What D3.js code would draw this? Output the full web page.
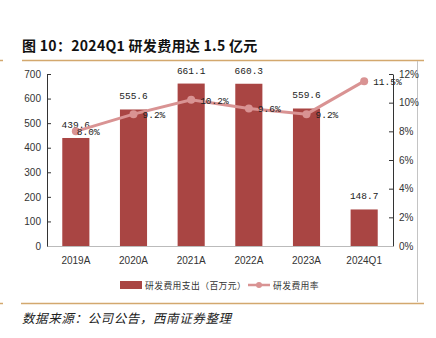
<!DOCTYPE html>
<html>
<head>
<meta charset="utf-8">
<script src="https://cdn.jsdelivr.net/npm/d3@7"></script>
<style>
  body { margin: 0; background: #fff; }
  svg { display: block; }
</style>
</head>
<body>
<svg id="chart"></svg>
<script>
const width = 436;
const height = 338;

// Data
const years = ["2019A", "2020A", "2021A", "2022A", "2023A", "2024Q1"];
const rdSpend = [439.6, 555.6, 661.1, 660.3, 559.6, 148.7];
const rdRate = [8.0, 9.2, 10.2, 9.6, 9.2, 11.5];
const leftTicks = [0, 100, 200, 300, 400, 500, 600, 700];
const rightTicks = [0, 2, 4, 6, 8, 10, 12];

const plot = { left: 47, right: 393, top: 74, bottom: 246 };
const barColor = "#a94543";
const lineColor = "#d99393";
const tan = "#d3a86e";
const narrow = "'Liberation Sans Narrow', 'Liberation Sans', Arial, sans-serif";
const mono = "'Liberation Mono', 'DejaVu Sans Mono', monospace";
const cjk = "'Noto Sans CJK SC', sans-serif";

const svg = d3.select("#chart")
  .attr("width", width)
  .attr("height", height);

// Title
svg.append("text")
  .attr("x", 22)
  .attr("y", 51)
  .attr("font-family", cjk)
  .attr("font-weight", "bold")
  .attr("font-size", 14)
  .attr("letter-spacing", 0.3)
  .attr("fill", "#111")
  .text("图 10：2024Q1 研发费用达 1.5 亿元");

// Frame lines
svg.append("line").attr("x1", 22).attr("x2", 424).attr("y1", 60.5).attr("y2", 60.5)
  .attr("stroke", tan).attr("stroke-width", 1.5);
svg.append("line").attr("x1", 0).attr("x2", 3).attr("y1", 60.5).attr("y2", 60.5)
  .attr("stroke", tan).attr("stroke-width", 1.5);
svg.append("line").attr("x1", 21).attr("x2", 424).attr("y1", 303.5).attr("y2", 303.5)
  .attr("stroke", tan).attr("stroke-width", 1.5);
svg.append("line").attr("x1", 0).attr("x2", 3).attr("y1", 303.5).attr("y2", 303.5)
  .attr("stroke", tan).attr("stroke-width", 1.5);
svg.append("line").attr("x1", 417.5).attr("x2", 417.5).attr("y1", 61).attr("y2", 302)
  .attr("stroke", "#c4c4c4").attr("stroke-width", 1);

// Scales
const x = d3.scaleBand()
  .domain(years)
  .range([plot.left, plot.right])
  .paddingInner(0.53)
  .paddingOuter(0.265);

const yLeft = d3.scaleLinear().domain([0, 700]).range([plot.bottom, plot.top]);
const yRight = d3.scaleLinear().domain([0, 12]).range([plot.bottom, plot.top]);

// Bars
svg.selectAll(".bar")
  .data(rdSpend)
  .enter()
  .append("rect")
  .attr("class", "bar")
  .attr("x", (d, i) => x(years[i]))
  .attr("y", d => yLeft(d))
  .attr("width", x.bandwidth())
  .attr("height", d => plot.bottom - yLeft(d))
  .attr("fill", barColor);

// Bar labels
svg.selectAll(".bar-label")
  .data(rdSpend)
  .enter()
  .append("text")
  .attr("class", "bar-label")
  .attr("x", (d, i) => x(years[i]) + x.bandwidth() / 2)
  .attr("y", d => yLeft(d) - 10)
  .attr("text-anchor", "middle")
  .attr("font-family", mono)
  .attr("font-size", 9.5)
  .attr("fill", "#222")
  .text(d => d.toFixed(1));

// Axes
const axisLeft = d3.axisLeft(yLeft)
  .tickValues(leftTicks)
  .tickSizeInner(-4)
  .tickSizeOuter(0)
  .tickPadding(6);
const gl = svg.append("g")
  .attr("transform", `translate(${plot.left},0)`)
  .call(axisLeft);

const axisRight = d3.axisRight(yRight)
  .tickValues(rightTicks)
  .tickSizeInner(-4)
  .tickSizeOuter(0)
  .tickPadding(6)
  .tickFormat(d => d + "%");
const gr = svg.append("g")
  .attr("transform", `translate(${plot.right},0)`)
  .call(axisRight);

const axisBottom = d3.axisBottom(x).tickSize(0).tickPadding(11);
const gb = svg.append("g")
  .attr("transform", `translate(0,${plot.bottom})`)
  .call(axisBottom);
gb.select(".domain").attr("stroke", "#bbb");

[gl, gr, gb].forEach(g => {
  g.selectAll("text")
    .attr("font-family", narrow)
    .attr("font-size", 10)
    .attr("fill", "#333");
});
[gl, gr].forEach(g => {
  g.select(".domain").attr("stroke", "#333");
  g.selectAll(".tick line").attr("stroke", "#333");
});

// Rate line
const line = d3.line()
  .x((d, i) => x(years[i]) + x.bandwidth() / 2)
  .y(d => yRight(d));

svg.append("path")
  .datum(rdRate)
  .attr("d", line)
  .attr("fill", "none")
  .attr("stroke", lineColor)
  .attr("stroke-width", 3);

svg.selectAll(".dot")
  .data(rdRate)
  .enter()
  .append("circle")
  .attr("class", "dot")
  .attr("cx", (d, i) => x(years[i]) + x.bandwidth() / 2)
  .attr("cy", d => yRight(d))
  .attr("r", 4)
  .attr("fill", lineColor);

// Rate labels sit right of each point; the first one is tucked in closer
svg.selectAll(".rate-label")
  .data(rdRate)
  .enter()
  .append("text")
  .attr("class", "rate-label")
  .attr("x", (d, i) => x(years[i]) + x.bandwidth() / 2 + (i === 0 ? 1 : 9))
  .attr("y", d => yRight(d) + 4)
  .attr("font-family", mono)
  .attr("font-size", 9.5)
  .attr("fill", "#222")
  .text(d => d.toFixed(1) + "%");

// Legend
const legend = svg.append("g").attr("transform", "translate(0,285)");
legend.append("rect")
  .attr("x", 120).attr("y", -4)
  .attr("width", 22).attr("height", 8)
  .attr("fill", barColor);
legend.append("text")
  .attr("x", 145).attr("y", 3.5)
  .attr("font-family", cjk)
  .attr("font-size", 8.8)
  .attr("letter-spacing", 0.4)
  .attr("fill", "#333")
  .text("研发费用支出（百万元）");
legend.append("line")
  .attr("x1", 248).attr("x2", 270)
  .attr("y1", 0).attr("y2", 0)
  .attr("stroke", lineColor).attr("stroke-width", 2.5);
legend.append("circle")
  .attr("cx", 259).attr("cy", 0).attr("r", 3)
  .attr("fill", lineColor);
legend.append("text")
  .attr("x", 273).attr("y", 3.5)
  .attr("font-family", cjk)
  .attr("font-size", 8.8)
  .attr("letter-spacing", 0.4)
  .attr("fill", "#333")
  .text("研发费用率");

// Source note
svg.append("text")
  .attr("x", 22)
  .attr("y", 323)
  .attr("font-family", cjk)
  .attr("font-style", "italic")
  .attr("font-size", 12.5)
  .attr("letter-spacing", 0.6)
  .attr("fill", "#222")
  .text("数据来源：公司公告，西南证券整理");
</script>
</body>
</html>
